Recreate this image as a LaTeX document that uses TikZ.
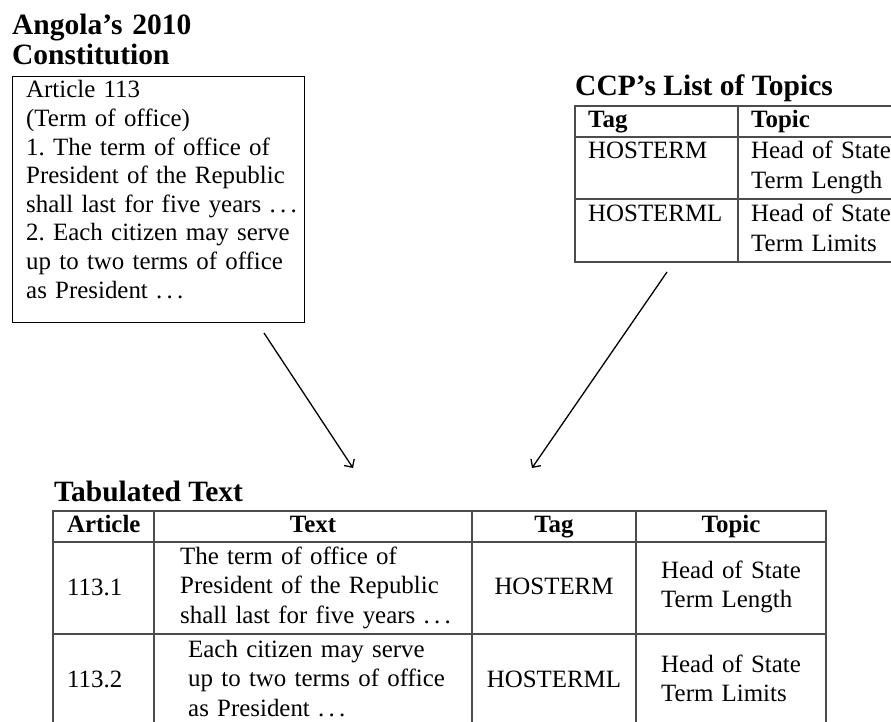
\documentclass[tikz,border=0pt]{standalone}
\usepackage{fontspec}
\setmainfont{Liberation Serif}
\usetikzlibrary{arrows.meta}
\frenchspacing
\newcommand\ellips{.\kern.17em.\kern.17em.}
\tikzset{
  body/.style={inner sep=0pt, anchor=base west, align=left, font=\fontsize{24.9}{29.5}\selectfont},
  head/.style={body, font=\fontsize{24.9}{29.5}\selectfont\bfseries},
  title/.style={inner sep=0pt, anchor=base west, align=left, font=\fontsize{29.5}{30}\selectfont\bfseries},
  tabline/.style={draw=black!70, line width=1.2pt},
  arr/.style={line width=1.3pt, -{Straight Barb[length=6pt,width=12pt]}},
}
\begin{document}
\begin{tikzpicture}[x=1pt,y=-1pt]
    \useasboundingbox (0,0) rectangle (891,722);

    % source text
    \node[title, text width=292pt] (ttlA) at (12,35) {Angola's 2010\\Constitution};
    \node[draw, line width=1.1pt, minimum width=292pt, minimum height=246pt, anchor=north west] (box) at (12,76) {};
    \node[body, text width=275pt, font=\fontsize{24.9}{28.6}\selectfont] (art) at (26,98)
        {Article 113\\(Term of office)\\1. The term of office of\\President of the Republic\\shall last for five years \ellips\\2. Each citizen may serve\\up to two terms of office\\as President \ellips};

    % list of topics
    \node[title] (ttlB) at (575,96) {CCP's List of Topics};
    \draw[tabline] (891,106) -| (575,262) -- (891,262);
    \draw[tabline] (575,137) -- (891,137) (575,199) -- (891,199) (738,106) -- (738,262);
    \node[head] (tagB)  at (588,128) {Tag};
    \node[head] (topB)  at (751,128) {Topic};
    \node[body] (tagB1) at (588,159) {HOSTERM};
    \node[body, text width=160pt] (topB1) at (751,159) {Head of State\\Term Length};
    \node[body] (tagB2) at (588,222) {HOSTERML};
    \node[body, text width=160pt] (topB2) at (751,222) {Head of State\\Term Limits};

    % tabulated text
    \node[title] (ttlC) at (54,501) {Tabulated Text};
    \draw[tabline] (53,722) |- (826,511) -- (826,722);
    \draw[tabline] (53,542) -- (826,542) (53,634) -- (826,634);
    \draw[tabline] (154,511) -- (154,722) (472,511) -- (472,722) (636,511) -- (636,722);
    \node[head] (artC) at (67,532) {Article};
    \node[head, anchor=base] (txtC) at (313,532) {Text};
    \node[head, anchor=base] (tagC) at (554,532) {Tag};
    \node[head, anchor=base] (topC) at (731,532) {Topic};

    \node[body] (artC1) at (67,595) {113.1};
    \node[body, text width=280pt] (txtC1) at (180,564) {The term of office of\\President of the Republic\\shall last for five years \ellips};
    \node[body, anchor=base] (tagC1) at (554,594) {HOSTERM};
    \node[body, text width=160pt] (topC1) at (661,578) {Head of State\\Term Length};

    \node[body] (artC2) at (67,687) {113.2};
    \node[body, text width=270pt] (txtC2) at (188,657) {Each citizen may serve\\up to two terms of office\\as President \ellips};
    \node[body, anchor=base] (tagC2) at (554,687) {HOSTERML};
    \node[body, text width=160pt] (topC2) at (661,672) {Head of State\\Term Limits};

    % arrows
    \coordinate (fromA) at (264,333);
    \coordinate (toA)   at (353,468);
    \coordinate (fromB) at (667,272);
    \coordinate (toB)   at (532,468);
    \draw[arr] (fromA) -- (toA);
    \draw[arr] (fromB) -- (toB);
\end{tikzpicture}
\end{document}
